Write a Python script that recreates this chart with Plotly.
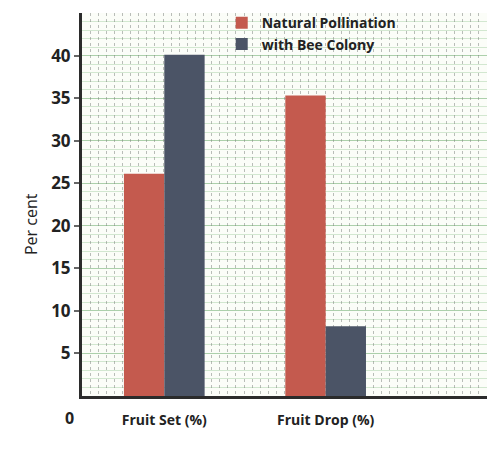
import plotly.graph_objects as go

categories = ["Fruit Set (%)", "Fruit Drop (%)"]
natural = [26.1, 35.3]
bee_colony = [40.1, 8.2]
series_names = ["Natural Pollination", "with Bee Colony"]
y_ticks = [5, 10, 15, 20, 25, 30, 35, 40]

RED = "#c45a4e"
BLUE = "#4b5466"
FONT = "Open Sans"

fig = go.Figure()
fig.add_trace(go.Bar(x=categories, y=natural, name=series_names[0],
                     marker=dict(color=RED, line=dict(width=0))))
fig.add_trace(go.Bar(x=categories, y=bee_colony, name=series_names[1],
                     marker=dict(color=BLUE, line=dict(width=0))))
# invisible trace to carry the vertical graph-paper grid on an overlay axis
fig.add_trace(go.Scatter(x=[0, 50], y=[0, 0], xaxis="x2", mode="lines",
                         line=dict(width=0), showlegend=False, hoverinfo="skip"))

fig.update_layout(
    width=496, height=444,
    margin=dict(l=74, r=17, t=5, b=56, autoexpand=False),
    paper_bgcolor="white",
    plot_bgcolor="#fbfdf8",
    barmode="group",
    bargap=0.5,
    bargroupgap=0,
    showlegend=True,
    legend=dict(x=0.345, y=1.015, xanchor="left", yanchor="top",
                bgcolor="rgba(0,0,0,0)", borderwidth=0,
                font=dict(family=FONT, size=14, color="#222", weight="bold"),
                tracegroupgap=0, itemwidth=30),
    xaxis=dict(type="category", range=[-0.51, 2.0], automargin=False,
               showline=True, linecolor="#2b2b2b", linewidth=3,
               ticks="outside", ticklen=9, tickcolor="rgba(0,0,0,0)",
               tickfont=dict(family=FONT, size=14, color="#222", weight="bold"),
               showgrid=False, zeroline=False),
    xaxis2=dict(overlaying="x", range=[0, 50], showgrid=True, dtick=1,
                gridcolor="rgba(120,125,120,0.5)", griddash="dot", gridwidth=1,
                showticklabels=False, ticks="", zeroline=False, showline=False),
    yaxis=dict(range=[0, 45], tickvals=y_ticks, automargin=False,
               showline=True, linecolor="#2b2b2b", linewidth=3,
               ticks="outside", ticklen=5, tickcolor="#666", tickwidth=1.5,
               tickfont=dict(family=FONT, size=17, color="#222", weight="bold"),
               showgrid=True, gridcolor="rgba(140,190,140,0.55)", gridwidth=1,
               minor=dict(dtick=1, showgrid=True, gridcolor="rgba(160,205,160,0.45)", gridwidth=1),
               zeroline=False),
)
fig.add_annotation(text="Per cent", xref="paper", yref="paper", x=-0.126, y=0.449,
                   xanchor="center", yanchor="middle", textangle=-90, showarrow=False,
                   font=dict(family=FONT, size=16, color="#222"))
fig.add_annotation(text="0", xref="paper", yref="paper", x=-0.03, y=-0.057,
                   xanchor="center", yanchor="middle", showarrow=False,
                   font=dict(family=FONT, size=16, color="#222", weight="bold"))

fig.write_html("out.html")
